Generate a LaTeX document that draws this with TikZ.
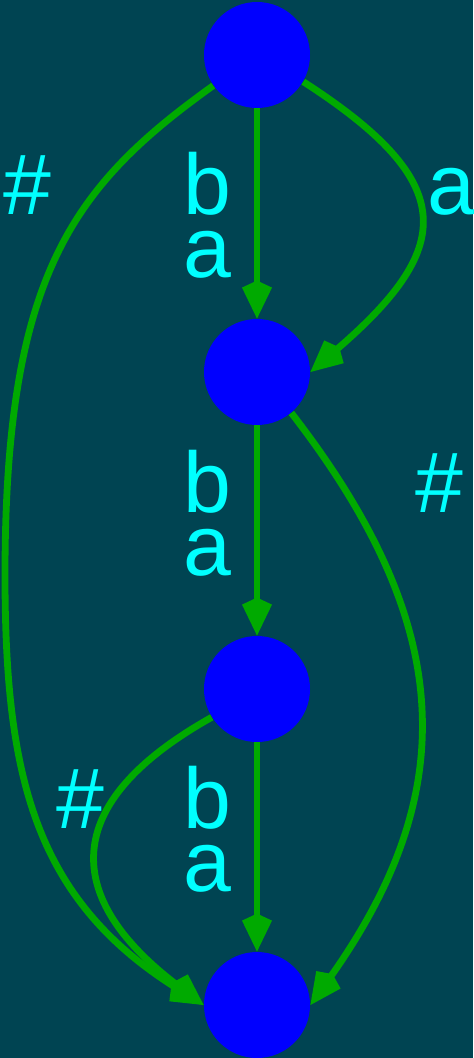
\documentclass[tikz,border=0pt]{standalone}
\usepackage{fontspec}
\setmainfont{Liberation Sans}
\usetikzlibrary{arrows.meta}
\definecolor{bgteal}{RGB}{0,68,82}
\definecolor{edgegreen}{RGB}{0,170,0}
\definecolor{nodeblue}{RGB}{0,0,255}
\definecolor{lblcyan}{RGB}{0,255,255}

\begin{document}
\begin{tikzpicture}[x=0.5pt, y=-0.5pt,
    >={Kite[length=19pt,width=15pt,inset=3.5pt,line width=0pt]},
    state/.style={circle, fill=nodeblue, inner sep=0pt, minimum size=53pt},
    edge/.style={->, line width=3.4pt, color=edgegreen},
    lbl/.style={text=lblcyan, anchor=base, align=center,
        font=\fontsize{43}{31.5}\selectfont}]
    \useasboundingbox (0,0) rectangle (473,1058);
    \fill[bgteal] (0,0) rectangle (473,1058);

    % states
    \node[state] (v1) at (257,55) {};
    \node[state] (v2) at (257,372) {};
    \node[state] (v3) at (257,689) {};
    \node[state] (v4) at (257,1005) {};
    \coordinate (bend) at (5,575);

    % transitions
    \draw[edge] (v1) -- (v2);
    \draw[edge] (v1.-30) .. controls (462,184) and (454,249) .. (v2.east);
    \draw[edge] (v1.-145) .. controls (73,186) and (5,275) .. (bend)
        .. controls (5,775) and (34,899) .. (v4.west);
    \draw[edge] (v2) -- (v3);
    \draw[edge] (v2.-50) .. controls (454,623) and (464,790) .. (v4.east);
    \draw[edge] (v3) -- (v4);
    \draw[edge] (v3.-148) .. controls (57,804) and (63,899) .. (v4.west);

    % labels (base = last line)
    \node[lbl] (l1) at (207,278) {b\\a};
    \node[lbl] (l2) at (451,215) {a};
    \node[lbl] (l3) at (27,215) {\#};
    \node[lbl] (l4) at (207,575) {b\\a};
    \node[lbl] (l5) at (439,512) {\#};
    \node[lbl] (l6) at (207,891) {b\\a};
    \node[lbl] (l7) at (80,828) {\#};
\end{tikzpicture}
\end{document}
